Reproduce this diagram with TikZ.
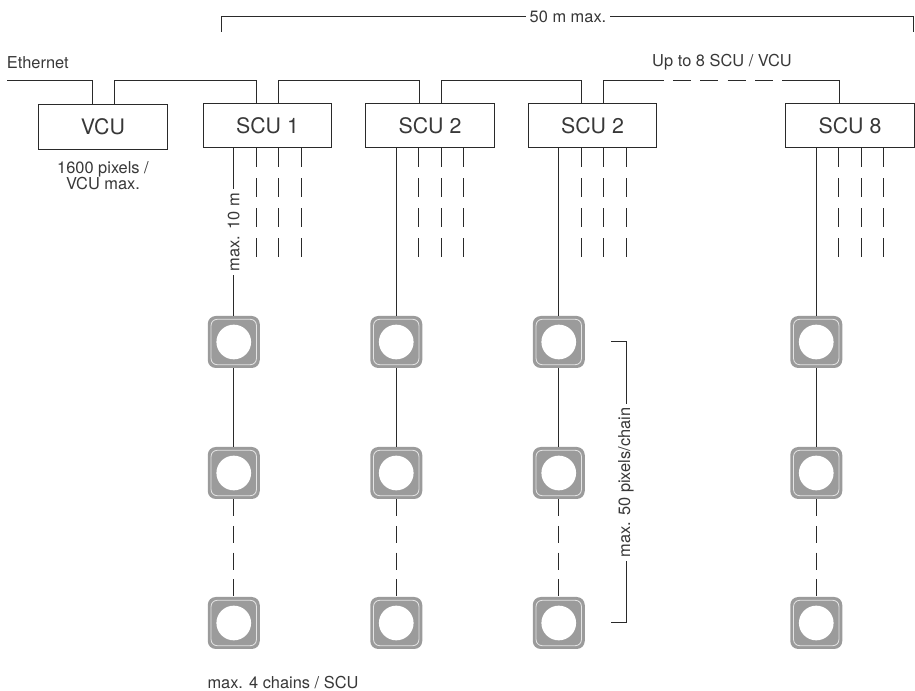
\documentclass[tikz,border=0pt]{standalone}
\usepackage{fontspec}
\setmainfont{TeX Gyre Heros}
\definecolor{ink}{HTML}{2A2A2A}
\definecolor{txt}{HTML}{383838}
\definecolor{pxgray}{HTML}{9B9B9B}
\definecolor{pxline}{HTML}{E4E4E4}
\begin{document}
\begin{tikzpicture}[x=0.75pt,y=-0.75pt,
  line/.style={draw=ink,line width=0.75pt},
  unit/.style={draw=ink,line width=0.75pt,minimum width=96.5pt,minimum height=33.5pt,inner sep=0pt,font=\fontsize{16}{19}\selectfont,text=txt},
  lbl/.style={font=\fontsize{12.3}{12}\selectfont,text=txt,inner sep=2pt},
  stub/.style={line,dash pattern=on 14.25pt off 8.25pt},
  chaindash/.style={line,dash pattern=on 12.75pt off 7.25pt},
  pixel/.style={rectangle,rounded corners=6pt,fill=pxgray,minimum size=39pt,inner sep=0pt,
    path picture={
      \fill[white] (path picture bounding box.center) circle (13pt);
      \draw[pxline,line width=0.6pt,rounded corners=4.5pt]
        ([shift={(2.5pt,2.5pt)}]path picture bounding box.south west) rectangle
        ([shift={(-2.5pt,-2.5pt)}]path picture bounding box.north east);
    }}
]
\path[use as bounding box] (0,0) rectangle (915,691);

% control units
\node[unit] (vcu) at (103,127) {VCU};
\node[unit] (s1) at (267.5,125.5) {SCU 1};
\node[unit] (s2) at (430,125.5) {SCU 2};
\node[unit] (s3) at (592.5,125.5) {SCU 2};
\node[unit] (s8) at (850,125.5) {SCU 8};

% ethernet bus
\coordinate (eth) at (7,81);
\node[lbl,anchor=west] (ethl) at (4,63) {Ethernet};
\draw[line] (eth) -| ([xshift=-8.25pt]vcu.north);
\draw[line] ([xshift=8.25pt]vcu.north) -- ++(0,-24) -| ([xshift=-8.25pt]s1.north);
\draw[line] ([xshift=8.25pt]s1.north) -- ++(0,-22) -| ([xshift=-8.25pt]s2.north);
\draw[line] ([xshift=8.25pt]s2.north) -- ++(0,-22) -| ([xshift=-8.25pt]s3.north);
\draw[line] ([xshift=8.25pt]s3.north) -- ++(0,-22) -- ++(60,0) coordinate (d1);
\draw[line] ([xshift=-8.25pt]s8.north) -- ++(0,-22) -- ++(-57,0) coordinate (d2);
\draw[line,dash pattern=on 13.5pt off 7.05pt,dash phase=13.5pt] (d1) -- (d2);
\node[lbl] (upto) at (722,62) {Up to 8 SCU / VCU};
\node[lbl,align=center] (vcul) at (103,176) {1600 pixels /\\VCU max.};

% 50 m bracket
\coordinate (bl) at (221,32);
\coordinate (br) at (913,32);
\draw[line] (bl) -- ++(0,-15) -| (br);
\node[lbl,fill=white,inner xsep=3pt] (len) at (568,17) {50 m max.};

% chains
\foreach \s/\cx in {s1/267.5,s2/430,s3/592.5,s8/850}{
  \node[pixel] (\s p1) at (\cx-33.75,342) {};
  \node[pixel] (\s p2) at (\cx-33.75,473) {};
  \node[pixel] (\s p3) at (\cx-33.75,623) {};
  \draw[line] (\s p1.south) -- (\s p2.north);
  \draw[chaindash] (\s p2.south) -- (\s p3.north);
  \draw[stub] ([xshift=-8.4pt]\s.south) -- ++(0,109);
  \draw[stub] ([xshift=8.4pt]\s.south) -- ++(0,109);
  \draw[stub] ([xshift=25.3pt]\s.south) -- ++(0,109);
}
\draw[line] (s1p1.north |- s1.south) -- (s1p1.north)
  node[midway,lbl,rotate=90,fill=white,inner xsep=3pt] (ten) {max. 10 m};
\foreach \s in {s2,s3,s8}{
  \draw[line] (\s p1.north |- \s.south) -- (\s p1.north);
}

% 50 pixels bracket
\coordinate (rbt) at (611,342);
\coordinate (rbb) at (611,623);
\draw[line] (rbt) -- ++(15,0) -- ++(0,281)
  node[midway,lbl,rotate=90,fill=white,inner xsep=3pt] (fifty) {max. 50 pixels/chain} -- (rbb);

\node[lbl] (chains) at (283,683) {max. 4 chains / SCU};
\end{tikzpicture}
\end{document}
